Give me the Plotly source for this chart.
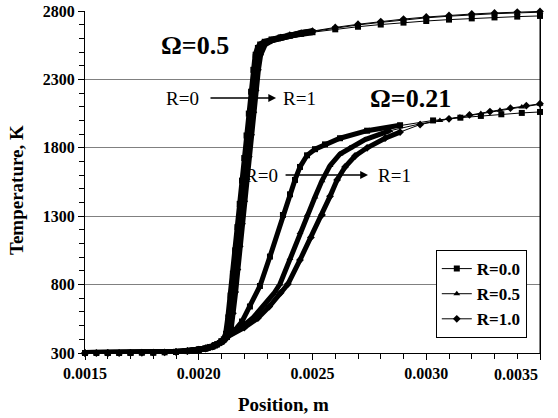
import plotly.graph_objects as go

# ---------------- data ----------------
# Omega = 0.5 family
x_w05 = [0.00150, 0.00155, 0.00160, 0.00165, 0.00170, 0.00175, 0.00180, 0.00185, 0.00190, 0.00195,
         0.00200, 0.00203, 0.00206, 0.00208, 0.00210, 0.00211, 0.00212, 0.00213, 0.00214, 0.00215,
         0.00216, 0.00217, 0.00218, 0.00219, 0.00220, 0.00221, 0.00222, 0.00223, 0.00224, 0.00225,
         0.00226, 0.00227, 0.00229, 0.00232, 0.00236, 0.00240, 0.00245, 0.00250, 0.00260, 0.00270,
         0.00280, 0.00290, 0.00300, 0.00310, 0.00320, 0.00330, 0.00340, 0.00350]
t_w05_r00 = [300, 300, 300, 300, 301, 302, 303, 305, 308, 314,
             322, 332, 346, 362, 385, 400, 440, 560, 720, 880,
             1050, 1220, 1390, 1560, 1725, 1890, 2050, 2210, 2370, 2480,
             2530, 2555, 2575, 2592, 2607, 2620, 2633, 2645, 2666, 2685,
             2701, 2715, 2727, 2737, 2746, 2753, 2759, 2764]
t_w05_r05 = [300, 300, 300, 300, 301, 302, 303, 305, 308, 314,
             322, 332, 346, 360, 380, 395, 418, 455, 560, 720,
             890, 1060, 1230, 1400, 1565, 1730, 1890, 2055, 2215, 2370,
             2480, 2530, 2565, 2588, 2606, 2622, 2637, 2650, 2675, 2698,
             2717, 2735, 2750, 2762, 2772, 2780, 2786, 2791]
t_w05_r10 = [300, 300, 300, 300, 301, 302, 303, 305, 308, 314,
             322, 332, 346, 358, 378, 390, 405, 430, 470, 590,
             745, 910, 1080, 1245, 1410, 1570, 1735, 1895, 2060, 2220,
             2370, 2480, 2555, 2585, 2605, 2623, 2639, 2653, 2680, 2703,
             2723, 2741, 2756, 2768, 2778, 2786, 2792, 2797]

# Omega = 0.21 family
x_w021_r00 = [0.00150, 0.00160, 0.00170, 0.00180, 0.00190, 0.00195, 0.00200, 0.00204, 0.00207, 0.00210,
              0.002124, 0.002159, 0.002190, 0.002225, 0.002269, 0.002313, 0.002370, 0.002401, 0.002423,
              0.002445, 0.002476, 0.002511, 0.002555, 0.002621, 0.002740, 0.002885, 0.003030, 0.003150,
              0.003240, 0.003330, 0.003420, 0.003500]
t_w021_r00 = [300, 300, 301, 303, 308, 315, 325, 340, 358, 385,
              417, 468, 530, 640, 790, 1005, 1309, 1460, 1565,
              1660, 1745, 1790, 1825, 1870, 1925, 1965, 2000, 2020,
              2033, 2045, 2055, 2062]
x_w021_r05 = [0.00150, 0.00160, 0.00170, 0.00180, 0.00190, 0.00195, 0.00200, 0.00204, 0.00207, 0.00210,
              0.002124, 0.002190, 0.002240, 0.002290, 0.002330, 0.002357, 0.002401, 0.002445, 0.002476,
              0.002511, 0.002542, 0.002577, 0.002621, 0.002665, 0.002731, 0.002841, 0.002973, 0.003060,
              0.003148, 0.003240, 0.003324, 0.003420, 0.003500]
t_w021_r05 = [300, 300, 301, 303, 308, 315, 325, 340, 358, 385,
              417, 490, 560, 650, 735, 804, 990, 1180, 1309,
              1440, 1560, 1670, 1755, 1800, 1860, 1925, 1975, 2000,
              2025, 2050, 2075, 2098, 2118]
x_w021_r10 = [0.00150, 0.00160, 0.00170, 0.00180, 0.00190, 0.00195, 0.00200, 0.00204, 0.00207, 0.00210,
              0.002124, 0.002200, 0.002260, 0.002310, 0.002360, 0.002392, 0.002445, 0.002493, 0.002542,
              0.002577, 0.002608, 0.002643, 0.002687, 0.002740, 0.002819, 0.002885, 0.002973, 0.003100,
              0.003190, 0.003280, 0.003370, 0.003440, 0.003500]
t_w021_r10 = [300, 300, 301, 303, 308, 315, 325, 340, 358, 385,
              417, 485, 555, 640, 740, 804, 980, 1145, 1309,
              1445, 1565, 1660, 1740, 1800, 1870, 1915, 1970, 2012,
              2040, 2065, 2090, 2108, 2122]

series_names = ["R=0.0", "R=0.5", "R=1.0"]
y_ticks = [300, 800, 1300, 1800, 2300, 2800]
x_ticks = [0.0015, 0.0020, 0.0025, 0.0030, 0.0035]
x_tick_labels = ["0.0015", "0.0020", "0.0025", "0.0030", "0.0035"]

# ---------------- styling ----------------
FONT = "Liberation Serif"
symbols = ["square", "triangle-up", "diamond"]
band_end_w05 = 0.00258   # where the dense-marker band ends
band_end_w021 = 0.00290

fig = go.Figure()

families = [
    (x_w05, x_w05, x_w05, t_w05_r00, t_w05_r05, t_w05_r10, band_end_w05, False, 6),
    (x_w021_r00, x_w021_r05, x_w021_r10, t_w021_r00, t_w021_r05, t_w021_r10, band_end_w021, True, 5),
]

for xa, xb, xc, ta, tb, tc, band_end, show, bw in families:
    for xs, ts, name, sym in zip([xa, xb, xc], [ta, tb, tc], series_names, symbols):
        bx = [x for x in xs if x <= band_end]
        by = [t for x, t in zip(xs, ts) if x <= band_end]
        fig.add_trace(go.Scatter(x=bx, y=by, mode="lines",
                                 line=dict(color="black", width=bw),
                                 showlegend=False, hoverinfo="skip", cliponaxis=False))
        fig.add_trace(go.Scatter(x=xs, y=ts, mode="lines+markers", name=name,
                                 line=dict(color="black", width=1),
                                 marker=dict(symbol=sym, size=6, color="black"),
                                 showlegend=show, cliponaxis=False))

# annotations
txt = dict(family=FONT, color="black")
fig.add_annotation(x=0.001984, y=2551, text="<b>Ω=0.5</b>", showarrow=False,
                   font=dict(size=26, **txt))
fig.add_annotation(x=0.002929, y=2164, text="<b>Ω=0.21</b>", showarrow=False,
                   font=dict(size=26, **txt))
fig.add_annotation(x=0.001930, y=2164, text="R=0", showarrow=False,
                   font=dict(size=19, **txt))
fig.add_annotation(x=0.002445, y=2164, text="R=1", showarrow=False,
                   font=dict(size=19, **txt))
fig.add_annotation(x=0.002340, y=2164, ax=0.002045, ay=2164, axref="x", ayref="y",
                   text="", showarrow=True, arrowhead=2, arrowsize=1.2, arrowwidth=1.3,
                   arrowcolor="black")
fig.add_annotation(x=0.002275, y=1601, text="R=0", showarrow=False,
                   font=dict(size=19, **txt))
fig.add_annotation(x=0.002862, y=1601, text="R=1", showarrow=False,
                   font=dict(size=19, **txt))
fig.add_annotation(x=0.002744, y=1601, ax=0.002375, ay=1601, axref="x", ayref="y",
                   text="", showarrow=True, arrowhead=2, arrowsize=1.2, arrowwidth=1.3,
                   arrowcolor="black")

# last x tick label, pulled inside the chart like the original
fig.add_annotation(x=1, y=-(374 - 353) / 342, xref="paper", yref="paper", showarrow=False,
                   text="<b>" + x_tick_labels[-1] + "</b>", font=dict(size=16, **txt),
                   xanchor="right", yanchor="middle")

# axis titles (placed as in the original chart area)
fig.add_annotation(x=(283 - 85) / 455, y=-(405 - 353) / 342, xref="paper", yref="paper",
                   showarrow=False, text="<b>Position, m</b>", font=dict(size=19, **txt),
                   xanchor="center", yanchor="middle")
fig.add_annotation(x=-(85 - 16) / 455, y=(353 - 190) / 342, xref="paper", yref="paper",
                   showarrow=False, text="<b>Temperature, K</b>", font=dict(size=19, **txt),
                   textangle=-90, xanchor="center", yanchor="middle")

# right border of the plot area
fig.add_shape(type="line", xref="paper", yref="paper", x0=1, x1=1, y0=0, y1=1,
              line=dict(color="black", width=1))

fig.update_layout(
    width=558, height=418,
    margin=dict(l=85, r=18, t=11, b=65),
    paper_bgcolor="white", plot_bgcolor="white",
    font=dict(family=FONT, color="black"),
    legend=dict(x=0.771, y=0.301, xanchor="left", yanchor="top",
                bgcolor="white", bordercolor="black", borderwidth=1,
                font=dict(family=FONT, size=17, color="black", weight="bold"),
                itemwidth=30, tracegroupgap=0),
)

fig.update_xaxes(
    range=[0.00149999, 0.00350001], tickvals=x_ticks,
    ticktext=x_tick_labels[:-1] + [""],
    ticks="outside", ticklen=6, tickcolor="black", automargin=False,
    showline=True, linecolor="black", linewidth=1,
    showgrid=False, zeroline=False,
    tickfont=dict(family=FONT, size=16, color="black", weight="bold"),
    minor=dict(dtick=0.0001, tick0=0.0015, ticks="outside", ticklen=5, tickcolor="black",
               showgrid=False),
)
fig.update_yaxes(
    range=[299.99, 2800.01], tickvals=y_ticks, automargin=False,
    ticks="outside", ticklen=6, tickcolor="black",
    showline=True, linecolor="black", linewidth=1, mirror=True,
    showgrid=True, gridcolor="#808080", gridwidth=1, zeroline=False,
    tickfont=dict(family=FONT, size=16, color="black", weight="bold"),
    minor=dict(dtick=100, tick0=300, ticks="outside", ticklen=5, tickcolor="black",
               showgrid=False),
)

fig.write_html("out.html")
